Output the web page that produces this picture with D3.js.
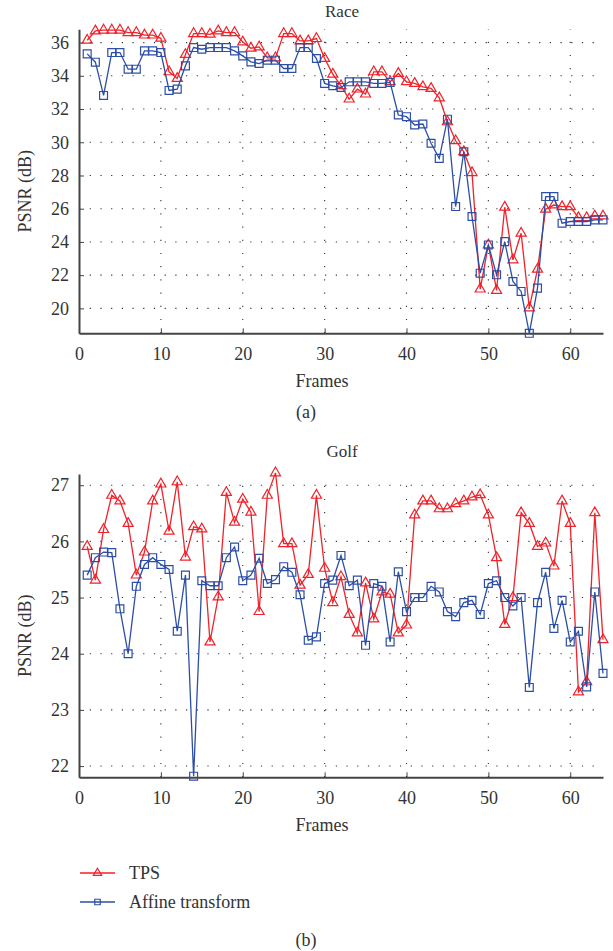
<!DOCTYPE html>
<html>
<head>
<meta charset="utf-8">
<script src="https://cdn.jsdelivr.net/npm/d3@7"></script>
<style>
  body { margin: 0; background: #fff; }
  svg { font-family: "Liberation Serif", "DejaVu Serif", serif; }
  .grid line { stroke: #333; stroke-width: 1.1; }
  .axis path, .axis line { stroke: #444; }
  .axis text { font-size: 18px; fill: #333; font-family: "Liberation Serif", "DejaVu Serif", serif; }
</style>
</head>
<body>
<svg width="613" height="951"></svg>
<script>
const FRAMES = d3.range(1, 65);

const RACE_TPS = [36.14, 36.7, 36.75, 36.75, 36.75, 36.6, 36.6, 36.45, 36.45, 36.26,
    34.24, 33.84, 35.28, 36.54, 36.54, 36.5, 36.7, 36.6, 36.6, 36.04,
    35.66, 35.74, 35.08, 35.08, 36.54, 36.54, 36.1, 36.1, 36.24, 35.04,
    34.1, 33.4, 32.6, 33.2, 32.9, 34.24, 34.24, 33.64, 34.14, 33.64,
    33.54, 33.34, 33.24, 32.67, 31.23, 30.09, 29.43, 28.17, 21.16, 23.82,
    21.08, 26.09, 22.92, 24.52, 20.02, 22.36, 25.97, 26.22, 26.12, 26.12,
    25.46, 25.46, 25.56, 25.56];
const RACE_AFFINE = [35.32, 34.82, 32.82, 35.4, 35.4, 34.4, 34.4, 35.5, 35.5, 35.4,
    33.12, 33.2, 34.6, 35.7, 35.6, 35.7, 35.7, 35.7, 35.5, 35.2,
    34.84, 34.74, 34.94, 34.94, 34.44, 34.44, 35.7, 35.7, 35.04, 33.54,
    33.4, 33.3, 33.64, 33.64, 33.64, 33.54, 33.54, 33.6, 31.64, 31.54,
    31.04, 31.1, 29.94, 29.03, 31.39, 26.13, 29.43, 25.53, 22.12, 23.82,
    22.02, 24.02, 21.62, 21.02, 18.5, 21.22, 26.73, 26.73, 25.13, 25.23,
    25.23, 25.23, 25.33, 25.33];

const GOLF_TPS = [25.91, 25.31, 26.21, 26.82, 26.72, 26.32, 25.4, 25.81, 26.72, 27.02,
    26.18, 27.06, 25.72, 26.26, 26.22, 24.21, 25.01, 26.87, 26.34, 26.75,
    26.52, 24.75, 26.82, 27.22, 25.96, 25.96, 25.22, 25.41, 26.82, 25.52,
    24.91, 25.37, 24.7, 24.37, 25.26, 24.62, 25.1, 25.06, 24.37, 24.51,
    26.47, 26.72, 26.72, 26.58, 26.58, 26.67, 26.72, 26.79, 26.83, 26.47,
    25.71, 24.52, 25.0, 26.51, 26.32, 25.91, 25.97, 25.56, 26.72, 26.32,
    23.32, 23.5, 26.51, 24.25];
const GOLF_AFFINE = [25.4, 25.71, 25.81, 25.8, 24.8, 24.0, 25.2, 25.59, 25.71, 25.59,
    25.5, 24.4, 25.4, 21.82, 25.3, 25.21, 25.21, 25.71, 25.9, 25.3,
    25.4, 25.7, 25.25, 25.32, 25.55, 25.45, 25.05, 24.24, 24.3, 25.25,
    25.31, 25.75, 25.21, 25.31, 24.15, 25.25, 25.2, 24.21, 25.46, 24.75,
    25.0, 25.0, 25.2, 25.1, 24.75, 24.66, 24.91, 24.95, 24.7, 25.25,
    25.3, 25.0, 24.85, 25.0, 23.4, 24.91, 25.45, 24.45, 24.95, 24.21,
    24.4, 23.41, 25.1, 23.65];

const X_TICKS = [0, 10, 20, 30, 40, 50, 60];
const RACE_Y_TICKS = [20, 22, 24, 26, 28, 30, 32, 34, 36];
const GOLF_Y_TICKS = [22, 23, 24, 25, 26, 27];
const SERIES_NAMES = ['TPS', 'Affine transform'];

const RED = '#f0222a';
const BLUE = '#2c4ea6';

const svg = d3.select('svg');

const PANELS = [
    { title: 'Race', tps: RACE_TPS, affine: RACE_AFFINE, ticks: RACE_Y_TICKS,
      domain: [18.5, 36.8], top: 29.3, bottom: 333.3, titleY: 17, caption: '(a)', captionY: 418 },
    { title: 'Golf', tps: GOLF_TPS, affine: GOLF_AFFINE, ticks: GOLF_Y_TICKS,
      domain: [21.8, 27.2], top: 474, bottom: 777.3, titleY: 457, caption: '(b)', captionY: 946 },
];

const left = 79, right = 603;
const x = d3.scaleLinear().domain([0, 64]).range([left, right]);

function drawSeries(g, y, values, color, shape, size) {
    const line = d3.line().x((d, i) => x(FRAMES[i])).y(d => y(d));
    g.append('path')
        .datum(values)
        .attr('d', line)
        .attr('fill', 'none')
        .attr('stroke', color)
        .attr('stroke-width', 1.3);
    g.selectAll(null)
        .data(values)
        .enter()
        .append('path')
        .attr('transform', (d, i) => `translate(${x(FRAMES[i])},${y(d)})`)
        .attr('d', d3.symbol().type(shape).size(size))
        .attr('fill', 'none')
        .attr('stroke', color)
        .attr('stroke-width', 1.2);
}

PANELS.forEach(p => {
    const y = d3.scaleLinear().domain(p.domain).range([p.bottom, p.top]);
    const g = svg.append('g');

    // dotted grid
    const grid = g.append('g').classed('grid', true);
    grid.selectAll('.hg')
        .data(p.ticks)
        .enter()
        .append('line')
        .attr('x1', left).attr('x2', right)
        .attr('y1', d => y(d)).attr('y2', d => y(d))
        .attr('stroke-dasharray', '1.2,9.5');
    grid.selectAll('.vg')
        .data(X_TICKS.filter(t => t > 0))
        .enter()
        .append('line')
        .attr('x1', d => x(d)).attr('x2', d => x(d))
        .attr('y1', p.bottom).attr('y2', p.top)
        .attr('stroke-dasharray', '1.2,12');

    // axes, ticks inward
    g.append('g')
        .classed('axis', true)
        .attr('transform', `translate(0,${p.bottom})`)
        .call(d3.axisBottom(x).tickValues(X_TICKS).tickFormat(d3.format('d'))
            .tickSizeInner(-5).tickSizeOuter(0).tickPadding(14))
        .call(a => a.attr('font-family', null).attr('font-size', null))
        .call(a => a.select('.domain').attr('stroke-width', 2));
    g.append('g')
        .classed('axis', true)
        .attr('transform', `translate(${left},0)`)
        .call(d3.axisLeft(y).tickValues(p.ticks).tickFormat(d3.format('d'))
            .tickSizeInner(-5).tickSizeOuter(0).tickPadding(10))
        .call(a => a.attr('font-family', null).attr('font-size', null))
        .call(a => a.select('.domain').attr('stroke-width', 2));

    drawSeries(g, y, p.tps, RED, d3.symbolTriangle, 44);
    drawSeries(g, y, p.affine, BLUE, d3.symbolSquare, 62);

    g.append('text')
        .attr('x', 342).attr('y', p.titleY)
        .attr('text-anchor', 'middle')
        .attr('font-size', 17)
        .attr('fill', '#333')
        .text(p.title);
    g.append('text')
        .attr('x', 322).attr('y', p.bottom + 54)
        .attr('text-anchor', 'middle')
        .attr('font-size', 18)
        .attr('fill', '#333')
        .text('Frames');
    g.append('text')
        .attr('transform', `translate(31,${(p.top + p.bottom) / 2 + 10}) rotate(-90)`)
        .attr('text-anchor', 'middle')
        .attr('font-size', 18)
        .attr('fill', '#333')
        .text('PSNR (dB)');
    g.append('text')
        .attr('x', 306).attr('y', p.captionY)
        .attr('text-anchor', 'middle')
        .attr('font-size', 18)
        .attr('fill', '#333')
        .text(p.caption);
});

// legend
const legend = svg.append('g');
const legendRows = [
    { name: SERIES_NAMES[0], color: RED, shape: d3.symbolTriangle, size: 30 },
    { name: SERIES_NAMES[1], color: BLUE, shape: d3.symbolSquare, size: 30 },
];
legendRows.forEach((r, i) => {
    const ly = 873 + i * 29;
    legend.append('line')
        .attr('x1', 80).attr('x2', 115)
        .attr('y1', ly).attr('y2', ly)
        .attr('stroke', r.color).attr('stroke-width', 1.3);
    legend.append('path')
        .attr('transform', `translate(97.5,${ly})`)
        .attr('d', d3.symbol().type(r.shape).size(r.size))
        .attr('fill', 'none').attr('stroke', r.color).attr('stroke-width', 1.2);
    legend.append('text')
        .attr('x', 129).attr('y', ly + 6)
        .attr('font-size', 18)
        .attr('fill', '#333')
        .text(r.name);
});
</script>
</body>
</html>
